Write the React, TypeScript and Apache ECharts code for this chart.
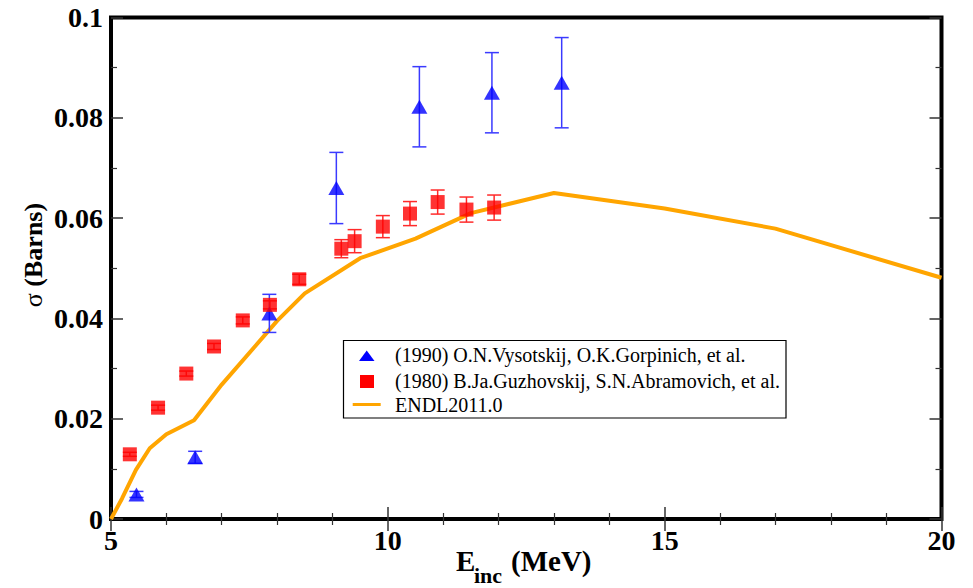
import React, { useEffect, useRef } from "react";
import * as echarts from "echarts";

// Incident energy (MeV) and cross sections (barns)
const vysotskijE = [5.46, 6.52, 7.86, 9.07, 10.57, 11.88, 13.14];
const vysotskijSigma = [0.0049, 0.0123, 0.041, 0.066, 0.0822, 0.085, 0.087];
const vysotskijErr = [0.0006, 0.0012, 0.0038, 0.0071, 0.008, 0.008, 0.009];

const guzhovskijE = [5.34, 5.85, 6.36, 6.86, 7.38, 7.87, 8.4, 9.16, 9.4, 9.91, 10.4, 10.9, 11.42, 11.92];
const guzhovskijSigma = [0.0129, 0.0222, 0.029, 0.0344, 0.0396, 0.0427, 0.0478, 0.0539, 0.0554, 0.0583, 0.0609, 0.0632, 0.0617, 0.0621];
const guzhovskijErr = [0.0004, 0.0005, 0.0005, 0.0006, 0.0007, 0.0008, 0.001, 0.0018, 0.0023, 0.0022, 0.0024, 0.0024, 0.0025, 0.0025];

const endlE = [5, 5.2, 5.45, 5.7, 6, 6.5, 7, 8, 8.5, 9.5, 10.5, 11.5, 13, 15, 17, 20];
const endlSigma = [0, 0.0041, 0.0098, 0.0141, 0.0169, 0.0197, 0.0268, 0.0395, 0.045, 0.052, 0.0559, 0.061, 0.065, 0.0619, 0.0579, 0.0481];

const legendLabels = [
  "(1990) O.N.Vysotskij, O.K.Gorpinich, et al.",
  "(1980) B.Ja.Guzhovskij, S.N.Abramovich, et al.",
  "ENDL2011.0",
];

const FONT = "Liberation Serif";
const BLUE = "#0000ff";
const RED = "#ff0000";
const ORANGE = "#ffa500";

function errorSeries(xs: number[], ys: number[], errs: number[], color: string) {
  return {
    type: "custom",
    silent: true,
    z: 3,
    encode: { x: 0, y: [1, 2] },
    data: xs.map((x, i) => [x, ys[i] - errs[i], ys[i] + errs[i]]),
    renderItem: (params: any, api: any) => {
      const x = api.value(0);
      const lo = api.coord([x, api.value(1)]);
      const hi = api.coord([x, api.value(2)]);
      const hw = 7;
      const style = { stroke: color, lineWidth: 1.5 };
      return {
        type: "group",
        children: [
          { type: "line", shape: { x1: lo[0], y1: lo[1], x2: hi[0], y2: hi[1] }, style },
          { type: "line", shape: { x1: lo[0] - hw, y1: lo[1], x2: lo[0] + hw, y2: lo[1] }, style },
          { type: "line", shape: { x1: hi[0] - hw, y1: hi[1], x2: hi[0] + hw, y2: hi[1] }, style },
        ],
      };
    },
  };
}

function xAxisDef(pos: "bottom" | "top", labels: boolean) {
  return {
    type: "value",
    position: pos,
    min: 5,
    max: 20,
    interval: 5,
    axisLine: { show: false },
    splitLine: { show: false },
    axisTick: { show: true, inside: true, length: 12, lineStyle: { color: "#333", width: 1.5 } },
    minorTick: { show: true, splitNumber: 5, length: 6, lineStyle: { color: "#333", width: 1.2 } },
    axisLabel: {
      show: labels,
      fontFamily: FONT,
      fontWeight: "bold",
      fontSize: 28,
      color: "#000",
      margin: 7,
    },
  };
}

function yAxisDef(pos: "left" | "right", labels: boolean) {
  return {
    type: "value",
    position: pos,
    min: 0,
    max: 0.1,
    interval: 0.02,
    axisLine: { show: false },
    splitLine: { show: false },
    axisTick: { show: true, inside: true, length: 12, lineStyle: { color: "#333", width: 1.5 } },
    minorTick: { show: true, splitNumber: 2, length: 6, lineStyle: { color: "#333", width: 1.2 } },
    axisLabel: {
      show: labels,
      fontFamily: FONT,
      fontWeight: "bold",
      fontSize: 28,
      color: "#000",
      margin: 8,
      formatter: (v: number) => String(parseFloat(v.toFixed(3))),
    },
  };
}

export default function App() {
  const ref = useRef<HTMLDivElement>(null);

  useEffect(() => {
    if (!ref.current) return;
    const chart = echarts.init(ref.current, undefined, { renderer: "svg" });

    const option: any = {
      animation: false,
      backgroundColor: "#fff",
      textStyle: { fontFamily: FONT },
      grid: {
        left: 111,
        right: 31.5,
        top: 17.5,
        bottom: 69,
        show: true,
        borderColor: "#000",
        borderWidth: 4,
        backgroundColor: "transparent",
        containLabel: false,
        outerBoundsMode: "none",
      },
      xAxis: [xAxisDef("bottom", true), xAxisDef("top", false)],
      yAxis: [yAxisDef("left", true), yAxisDef("right", false)],
      series: [
        {
          name: legendLabels[2],
          type: "line",
          data: endlE.map((e, i) => [e, endlSigma[i]]),
          symbol: "none",
          lineStyle: { color: ORANGE, width: 4 },
          z: 2,
        },
        errorSeries(vysotskijE, vysotskijSigma, vysotskijErr, "#3a3aff"),
        {
          name: legendLabels[0],
          type: "scatter",
          data: vysotskijE.map((e, i) => [e, vysotskijSigma[i]]),
          symbol: "triangle",
          symbolSize: [16, 14],
          itemStyle: { color: BLUE },
          z: 4,
        },
        errorSeries(guzhovskijE, guzhovskijSigma, guzhovskijErr, "#ff2a2a"),
        {
          name: legendLabels[1],
          type: "scatter",
          data: guzhovskijE.map((e, i) => [e, guzhovskijSigma[i]]),
          symbol: "rect",
          symbolSize: [14, 14],
          itemStyle: { color: RED },
          z: 6,
        },
      ],
      graphic: [
        // legend box
        {
          type: "rect",
          shape: { x: 343.5, y: 340.5, width: 442.5, height: 77.5 },
          style: { fill: "#fff", stroke: "#000", lineWidth: 1.2 },
          z: 100,
        },
        {
          type: "polygon",
          shape: { points: [[359, 361], [374.5, 361], [366.7, 350.5]] },
          style: { fill: BLUE },
          z: 101,
        },
        {
          type: "rect",
          shape: { x: 360, y: 375, width: 14, height: 13 },
          style: { fill: RED },
          z: 101,
        },
        {
          type: "line",
          shape: { x1: 352.7, y1: 404.5, x2: 380.7, y2: 404.5 },
          style: { stroke: ORANGE, lineWidth: 3 },
          z: 101,
        },
        ...legendLabels.map((t, i) => ({
          type: "text",
          x: 395,
          y: [355.3, 380.6, 405.3][i],
          style: {
            text: t,
            fontFamily: FONT,
            fontSize: 20,
            fill: "#000",
            verticalAlign: "middle",
            align: "left",
          },
          z: 101,
        })),
        // x-axis title
        {
          type: "text",
          x: 456,
          y: 561,
          style: { text: "E", fontFamily: FONT, fontWeight: "bold", fontSize: 29, fill: "#000", verticalAlign: "middle", align: "left" },
        },
        {
          type: "text",
          x: 474,
          y: 575.5,
          style: { text: "inc", fontFamily: FONT, fontWeight: "bold", fontSize: 22, fill: "#000", verticalAlign: "middle", align: "left" },
        },
        {
          type: "text",
          x: 511,
          y: 561,
          style: { text: "(MeV)", fontFamily: FONT, fontWeight: "bold", fontSize: 29, fill: "#000", verticalAlign: "middle", align: "left" },
        },
        // y-axis title
        {
          type: "text",
          x: 33,
          y: 255,
          rotation: Math.PI / 2,
          style: {
            text: "{s|σ} {b|(Barns)}",
            align: "center",
            verticalAlign: "middle",
            fontFamily: FONT,
            fontSize: 26,
            rich: {
              s: { fontFamily: FONT, fontSize: 26, fontWeight: "normal", fill: "#000" },
              b: { fontFamily: FONT, fontSize: 26, fontWeight: "bold", fill: "#000" },
            },
          },
        },
      ],
    };

    chart.setOption(option);
    return () => chart.dispose();
  }, []);

  return (
    <div
      ref={ref}
      style={{ position: "fixed", left: 0, top: 0, width: 973, height: 588, background: "#fff" }}
    />
  );
}
